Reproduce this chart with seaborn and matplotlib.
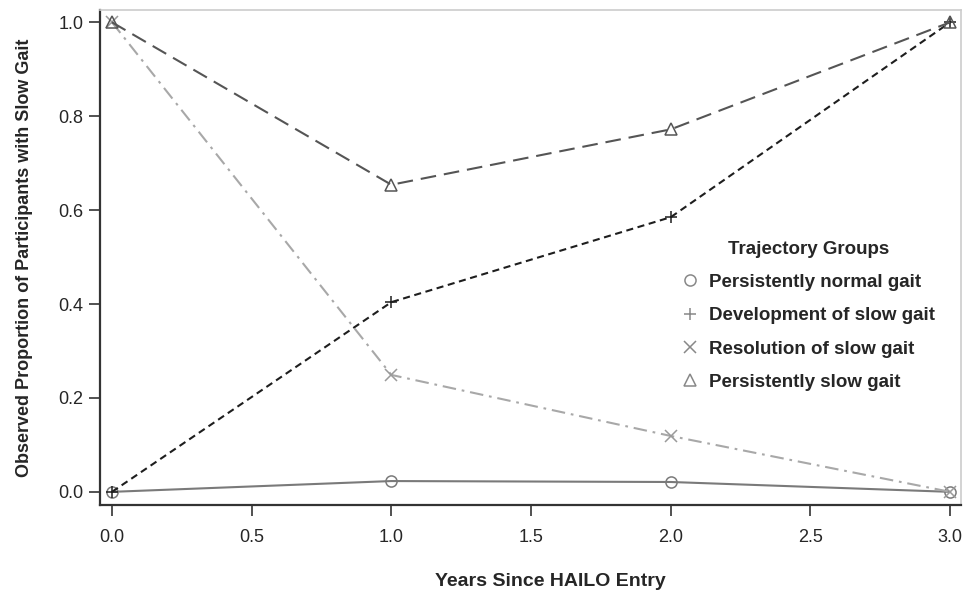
import matplotlib
matplotlib.use("Agg")
import matplotlib.pyplot as plt
from matplotlib.lines import Line2D
import pandas as pd
import seaborn as sns

# observed proportions
years = [0.0, 1.0, 2.0, 3.0]
normal_gait = [0.0, 0.023, 0.021, 0.0]
development = [0.0, 0.404, 0.585, 1.0]
resolution = [1.0, 0.249, 0.119, 0.0]
persistent_slow = [1.0, 0.654, 0.772, 1.0]

groups = ["Persistently normal gait", "Development of slow gait",
          "Resolution of slow gait", "Persistently slow gait"]
x_ticks = [0.0, 0.5, 1.0, 1.5, 2.0, 2.5, 3.0]
y_ticks = [0.0, 0.2, 0.4, 0.6, 0.8, 1.0]

df = pd.DataFrame({
    "year": years * 4,
    "prop": normal_gait + development + resolution + persistent_slow,
    "group": [g for g in groups for _ in years],
})

sns.set_theme(style="white")
plt.rcParams["font.family"] = ["Liberation Sans", "DejaVu Sans"]

styles = {
    groups[0]: dict(color="#7a7a7a", dashes=None, marker="o", mc="#7a7a7a"),
    groups[1]: dict(color="#1e1e1e", dashes=(3.4, 2.2), marker="+", mc="#1e1e1e"),
    groups[2]: dict(color="#a8a8a8", dashes=(6.5, 2.8, 1.3, 2.8), marker="x", mc="#9a9a9a"),
    groups[3]: dict(color="#555555", dashes=(7.5, 3.8), marker="^", mc="#555555"),
}

fig = plt.figure(figsize=(9.63, 5.93), dpi=100)
ax = fig.add_axes([0.1038, 0.1484, 0.8942, 0.8346])

for g in groups:
    s = styles[g]
    sub = df[df["group"] == g]
    sns.lineplot(data=sub, x="year", y="prop", color=s["color"],
                 linewidth=1.5, marker=s["marker"], markersize=8,
                 markerfacecolor="none", markeredgecolor=s["mc"],
                 markeredgewidth=1.1, legend=False, ax=ax)
    if s["dashes"] is not None:
        ax.lines[-1].set_dashes(s["dashes"])

ax.set_xlim(-0.043, 3.039)
ax.set_ylim(-0.028, 1.026)
ax.set_xticks(x_ticks)
ax.set_xticklabels([f"{v:.1f}" for v in x_ticks])
ax.set_yticks(y_ticks)
ax.set_yticklabels([f"{v:.1f}" for v in y_ticks])
ax.tick_params(axis="both", direction="out", length=8, width=1.2,
               color="#333333", labelsize=13, bottom=True, left=True)
ax.tick_params(axis="x", pad=9)
ax.tick_params(axis="y", pad=4)

for side in ["left", "bottom"]:
    ax.spines[side].set_color("#333333")
    ax.spines[side].set_linewidth(1.6)
for side in ["top", "right"]:
    ax.spines[side].set_color("#cccccc")
    ax.spines[side].set_linewidth(1.2)

ax.set_xlabel("Years Since HAILO Entry", fontsize=14, fontweight="bold",
              labelpad=20)
ax.xaxis.label.set_x(0.523)
ax.set_ylabel("Observed Proportion of Participants with Slow Gait",
              fontsize=13, fontweight="bold", labelpad=18)

handles = [Line2D([], [], linestyle="none", marker=m, markersize=8,
                  markerfacecolor="none", markeredgecolor="#888888",
                  markeredgewidth=1.1)
           for m in ["o", "+", "x", "^"]]
leg = ax.legend(handles, groups, title="Trajectory Groups", frameon=False,
                loc="upper left", bbox_to_anchor=(0.657, 0.568),
                prop={"size": 13.5, "weight": "bold"}, handlelength=0.8,
                handletextpad=0.6, labelspacing=0.86)
leg.get_title().set_fontweight("bold")
leg.get_title().set_fontsize(13.5)

fig.savefig("out.png", dpi=100)
